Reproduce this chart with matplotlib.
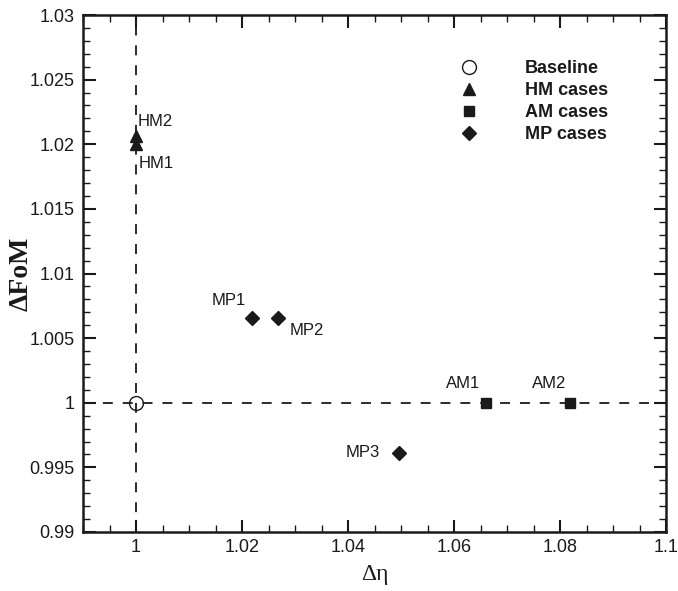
import matplotlib
matplotlib.use('Agg')
import matplotlib.pyplot as plt
from matplotlib.ticker import MultipleLocator
from matplotlib.lines import Line2D

# data
base_x = [1.0]
base_y = [1.0]
hm_x = [1.0, 1.0]
hm_y = [1.0200, 1.0206]
hm_names = ['HM1', 'HM2']
am_x = [1.066, 1.0818]
am_y = [1.0, 1.0]
am_names = ['AM1', 'AM2']
mp_x = [1.0218, 1.0268, 1.0496]
mp_y = [1.00653, 1.00653, 0.99614]
mp_names = ['MP1', 'MP2', 'MP3']

legend_labels = ['Baseline', 'HM cases', 'AM cases', 'MP cases']

plt.rcParams['font.family'] = 'Liberation Sans'
ink = '#1a1a1a'

fig = plt.figure(figsize=(6.78, 5.91), dpi=100)
ax = fig.add_axes([83/678, 59/591, 583/678, 517/591])

dash = (0, (5.5, 5.5))
ax.axvline(1.0, color=ink, lw=1.3, linestyle=dash, zorder=1)
ax.axhline(1.0, color=ink, lw=1.3, linestyle=dash, zorder=1)

ax.plot(base_x, base_y, 'o', ms=10, mfc='none', mec=ink, mew=1.0, zorder=3)
ax.plot(hm_x, hm_y, '^', ms=8.5, color=ink, zorder=3)
ax.plot(am_x, am_y, 's', ms=7, color=ink, zorder=3)
ax.plot(mp_x, mp_y, 'D', ms=7, color=ink, zorder=3)

# label offsets in points
fs = 12
offsets = {
    'HM1': (2, -14, 'left'),
    'HM2': (1.5, 11, 'left'),
    'AM1': (-16, 14, 'center'),
    'AM2': (-15, 14, 'center'),
    'MP1': (-4, 12.5, 'right'),
    'MP2': (8.5, -9, 'left'),
    'MP3': (-13.5, 0, 'right'),
}
for xs, ys, names in [(hm_x, hm_y, hm_names), (am_x, am_y, am_names), (mp_x, mp_y, mp_names)]:
    for x, y, n in zip(xs, ys, names):
        dx, dy, ha = offsets[n]
        ax.annotate(n, (x, y), xytext=(dx, dy), textcoords='offset points',
                    ha=ha, va='center', fontsize=fs, color=ink)

ax.set_xlim(0.99, 1.1)
ax.set_ylim(0.99, 1.03)
ax.xaxis.set_minor_locator(MultipleLocator(0.005))
ax.yaxis.set_minor_locator(MultipleLocator(0.001))
ax.set_xticks([1.0, 1.02, 1.04, 1.06, 1.08, 1.1])
ax.set_xticklabels(['1', '1.02', '1.04', '1.06', '1.08', '1.1'])
yt = [0.99, 0.995, 1.0, 1.005, 1.01, 1.015, 1.02, 1.025, 1.03]
ax.set_yticks(yt)
ax.set_yticklabels(['0.99', '0.995', '1', '1.005', '1.01', '1.015', '1.02', '1.025', '1.03'])

ax.tick_params(which='both', direction='in', top=True, right=True, colors=ink, labelsize=13)
ax.tick_params(which='major', length=9, width=1.5)
ax.tick_params(which='minor', length=5, width=1.0)
ax.tick_params(axis='y', pad=6)
ax.tick_params(axis='x', pad=5)
for s in ax.spines.values():
    s.set_linewidth(1.8)
    s.set_color(ink)

ax.set_xlabel('Δη', family='Liberation Serif', fontsize=17, color=ink, labelpad=6)
ax.set_ylabel('ΔFoM', family='Liberation Serif', fontweight='bold', fontsize=20, color=ink, labelpad=-3)

handles = [
    Line2D([], [], marker='o', ls='none', ms=10, mfc='none', mec=ink, mew=1.0),
    Line2D([], [], marker='^', ls='none', ms=8, color=ink),
    Line2D([], [], marker='s', ls='none', ms=6.5, color=ink),
    Line2D([], [], marker='D', ls='none', ms=7, color=ink),
]
leg = fig.legend(handles, legend_labels, loc='upper left',
                 bbox_to_anchor=(451/678, (591-60)/591), frameon=False,
                 handlelength=2, handletextpad=2.1, labelspacing=0.28,
                 borderpad=0, borderaxespad=0,
                 prop={'family': 'Liberation Sans', 'weight': 'bold', 'size': 13})
for t in leg.get_texts():
    t.set_color(ink)

fig.savefig('out.png', dpi=100)
